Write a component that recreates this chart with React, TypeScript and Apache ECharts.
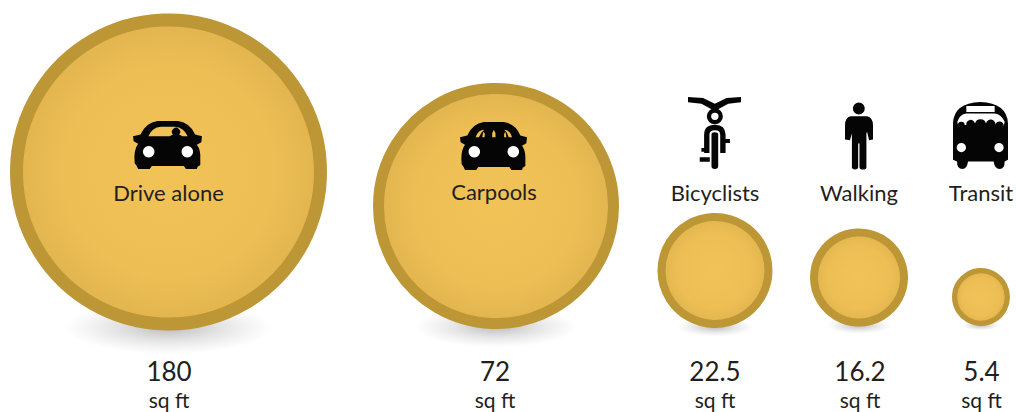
import React, { useEffect, useRef } from "react";
import * as echarts from "echarts";

const modes = ["Drive alone", "Carpools", "Bicyclists", "Walking", "Transit"];
const sqFt = ["180", "72", "22.5", "16.2", "5.4"];
const unit = "sq ft";
const circleX = [168.5, 496, 715, 859, 981];
const circleY = [172, 206, 270.5, 277.5, 297];
const diameters = [317, 246, 115, 98, 58];
const ringWidths = [13, 11, 8, 8, 5.3];
const modeLabelX = [168.5, 494, 715, 859, 981];
const modeLabelY = [192, 191, 192, 192, 192];
const valueX = [169, 495, 715, 860, 981.5];
const valueY = [371, 371, 371, 371, 371];
const unitY = [399, 399, 399, 399, 399];
const iconX = [167.5, 493.5, 714.5, 859, 980.5];
const iconY = [145, 146, 133, 136, 135.5];
const iconW = [69, 67, 53, 28, 55];
const iconH = [48, 48, 72, 67, 67];
const lightX = [148.7, 187.3, 474.3, 513.3];
const lightY = [151.7, 151.7, 151.7, 151.7];

const carBody =
  "M103 110L125 105Q140 70 175 65L235 65Q270 70 285 105L305 110L303 128L290 135Q302 150 300 180L300 195L292 200L290 207L258 207L252 198L158 198L152 207L118 207L114 198L108 190Q104 150 118 132L105 125Z";
const soloWindow =
  "M148 110L210 110L220 105A12 12 0 1 1 238 105L248 110L263 110Q252 84 225 82L185 82Q158 84 148 110Z";
const poolWindows =
  "M150 110L160 110L168 96L176 88Q158 88 150 110Z" +
  "M170 110L177 110L178 100L173 94Z" +
  "M200 110L210 110L210 98L205 88L200 98Z" +
  "M236 110L243 110L240 94L236 100Z" +
  "M250 110L260 110Q254 88 236 88L244 96Z";
const bicycle =
  "M85 22L130 25L165 42L200 25L243 22L243 38L205 42L172 60L158 60L125 42L85 38Z" +
  "M141 80A24 24 0 1 1 189 80A24 24 0 1 1 141 80Z" +
  "M154 80A11 11 0 1 0 176 80A11 11 0 1 0 154 80Z" +
  "M133 190L133 135Q133 105 165 105Q197 105 197 135L197 190L181 190L181 135Q181 122 165 122Q149 122 149 135L149 190Z" +
  "M155 135Q155 128 165 128Q175 128 175 135L175 230Q175 238 165 238Q155 238 155 230Z" +
  "M120 203L150 203L150 216L120 216Z" +
  "M125 175L136 175L136 186L125 186Z" +
  "M195 148L210 148L210 160L195 160Z";
const walker =
  "M129 55A18 18 0 1 1 165 55A18 18 0 1 1 129 55Z" +
  "M122 78L172 78Q190 82 190 105L190 148L178 150L172 125L170 130L170 232Q170 238 160 238Q150 238 149 232L149 160L145 160L145 232Q144 238 135 238Q127 238 126 232L126 130L120 150L105 148L105 105Q105 82 122 78Z";
const bus =
  "M430 100Q432 38 512 35Q592 38 595 100L595 210L585 215Q585 238 570 238Q555 238 552 215L475 215Q472 238 458 238Q442 238 442 215L430 210Z" +
  "M470 47L470 65L555 65L555 47Z" +
  "M445 105A10 10 0 0 1 465 105L470 105A13 13 0 0 1 496 100A17 17 0 0 1 529 100A14 14 0 0 1 557 105A10 10 0 0 1 582 108L585 95Q575 72 555 70L470 70Q450 72 443 95Z" +
  "M441 173A14 14 0 1 0 469 173A14 14 0 1 0 441 173Z" +
  "M554 173A14 14 0 1 0 582 173A14 14 0 1 0 554 173Z";
const icons = [carBody + soloWindow, carBody + poolWindows, bicycle, walker, bus];

const font = "Lato";
const ink = "#231f20";

function textSeries(
  xs: number[],
  ys: number[],
  texts: string[],
  fontSize: number,
  lineHeight: number
) {
  return {
    type: "scatter",
    silent: true,
    z: 6,
    symbol: "circle",
    symbolSize: 1,
    itemStyle: { color: "rgba(0,0,0,0)", opacity: 1 },
    data: xs.map((x, i) => ({
      value: [x, ys[i]],
      label: {
        show: true,
        position: "inside",
        formatter: texts[i],
        fontFamily: font,
        fontSize,
        lineHeight,
        color: ink,
      },
    })),
  };
}

export default function App() {
  const ref = useRef<HTMLDivElement>(null);

  useEffect(() => {
    document.body.style.margin = "0";
    const chart = echarts.init(ref.current!, null, { renderer: "svg" });
    chart.setOption({
      animation: false,
      backgroundColor: "#ffffff",
      tooltip: { show: false },
      grid: { left: 0, right: 0, top: 0, bottom: 0 },
      xAxis: { type: "value", min: 0, max: 1016, show: false },
      yAxis: { type: "value", min: 0, max: 412, inverse: true, show: false },
      series: [
        {
          type: "scatter",
          silent: true,
          z: 1,
          data: circleX.map((x, i) => ({
            value: [x, circleY[i] + diameters[i] * 0.49],
            symbol: "circle",
            symbolSize: [diameters[i] * 0.66, diameters[i] * 0.17],
            itemStyle: {
              opacity: 1,
              color: {
                type: "radial",
                x: 0.5,
                y: 0.5,
                r: 0.5,
                colorStops: [
                  { offset: 0, color: "rgba(90,90,90,0.42)" },
                  { offset: 0.5, color: "rgba(120,120,120,0.2)" },
                  { offset: 1, color: "rgba(150,150,150,0)" },
                ],
              },
            },
          })),
        },
        {
          type: "scatter",
          silent: true,
          z: 2,
          data: circleX.map((x, i) => ({
            value: [x, circleY[i]],
            symbol: "circle",
            symbolSize: diameters[i] - ringWidths[i],
            itemStyle: {
              opacity: 1,
              borderColor: "#bd9636",
              borderWidth: ringWidths[i],
              color: {
                type: "radial",
                x: 0.5,
                y: 0.5,
                r: 0.5,
                colorStops: [
                  { offset: 0, color: "#f1c357" },
                  { offset: 0.7, color: "#ecbe54" },
                  { offset: 1, color: "#e2b44e" },
                ],
              },
            },
          })),
        },
        {
          type: "scatter",
          silent: true,
          z: 3,
          data: iconX.map((x, i) => ({
            value: [x, iconY[i]],
            symbol: "path://" + icons[i],
            symbolSize: [iconW[i], iconH[i]],
            itemStyle: { opacity: 1, color: "#050505" },
          })),
        },
        {
          type: "scatter",
          silent: true,
          z: 4,
          symbol: "circle",
          symbolSize: 11.5,
          itemStyle: { opacity: 1, color: "#ffffff" },
          data: lightX.map((x, i) => [x, lightY[i]]),
        },
        textSeries(modeLabelX, modeLabelY, modes, 22, 24),
        textSeries(valueX, valueY, sqFt, 26, 20),
        textSeries(valueX, unitY, sqFt.map(() => unit), 21, 22),
      ],
    });
    return () => chart.dispose();
  }, []);

  return <div ref={ref} style={{ width: 1016, height: 412 }} />;
}
